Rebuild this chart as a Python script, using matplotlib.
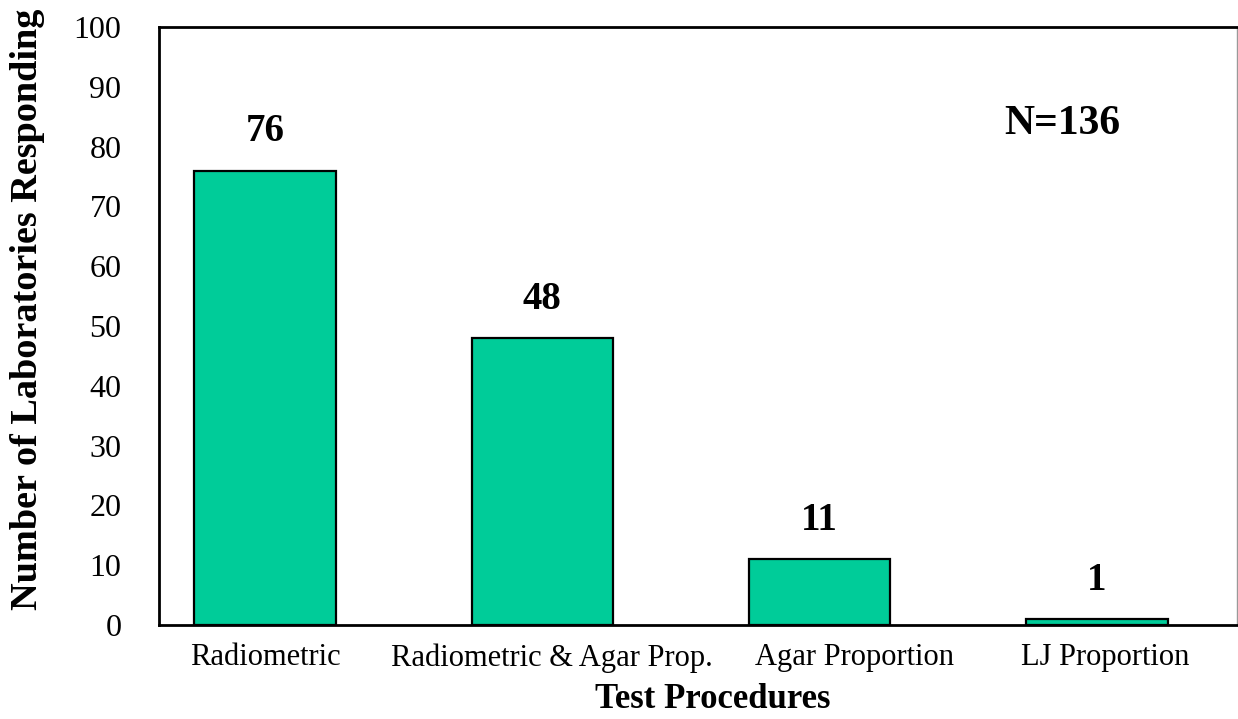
import matplotlib
matplotlib.use("Agg")
import matplotlib.pyplot as plt
from matplotlib.transforms import ScaledTranslation

# Survey results: laboratories by susceptibility test procedure
procedures = ["Radiometric", "Radiometric & Agar Prop.", "Agar Proportion", "LJ Proportion"]
labs_responding = [76, 48, 11, 1]
total_n = 136
y_ticks = [0, 10, 20, 30, 40, 50, 60, 70, 80, 90, 100]

plt.rcParams["font.family"] = ["Liberation Serif", "DejaVu Serif"]

fig = plt.figure(figsize=(12.38, 7.19), dpi=100)
ax = fig.add_axes([159 / 1238, 1 - 625 / 719, 1078 / 1238, 598 / 719])

positions = list(range(len(procedures)))
bars = ax.bar(positions, labs_responding, width=0.51, color="#00CC99",
              edgecolor="black", linewidth=1.6, zorder=2)

for x, v in zip(positions, labs_responding):
    ax.annotate(str(v), xy=(x, v), xytext=(0, 28), textcoords="offset points",
                ha="center", va="center", fontsize=28, fontweight="bold")

ax.text(0.838, 0.838, f"N={total_n}", transform=ax.transAxes,
        ha="center", va="center", fontsize=30, fontweight="bold")

ax.set_xlim(-0.382, 3.505)
ax.set_ylim(0, 100)
ax.set_yticks(y_ticks)
ax.set_yticklabels([str(t) for t in y_ticks], fontsize=23)
ax.set_xticks(positions)
ax.set_xticklabels(procedures, fontsize=22)
ax.tick_params(axis="both", length=0)
ax.tick_params(axis="y", pad=27)
ax.tick_params(axis="x", pad=13)

# nudge category labels sideways so the long ones do not collide
label_shift_px = [0, 10, 35, 8]
for lbl, dx in zip(ax.get_xticklabels(), label_shift_px):
    lbl.set_transform(lbl.get_transform() + ScaledTranslation(dx / 100, 0, fig.dpi_scale_trans))

for side in ("top", "left", "bottom"):
    ax.spines[side].set_color("black")
    ax.spines[side].set_linewidth(2)
ax.spines["right"].set_color("#999999")
ax.spines["right"].set_linewidth(1)

fig.text(28 / 1238, 1 - 309 / 719, "Number of Laboratories Responding",
         rotation=90, ha="center", va="center", fontsize=27.5, fontweight="bold")
fig.text(713 / 1238, 1 - 700 / 719, "Test Procedures",
         ha="center", va="center", fontsize=25, fontweight="bold")

fig.savefig("out.png", dpi=100, facecolor="white")
